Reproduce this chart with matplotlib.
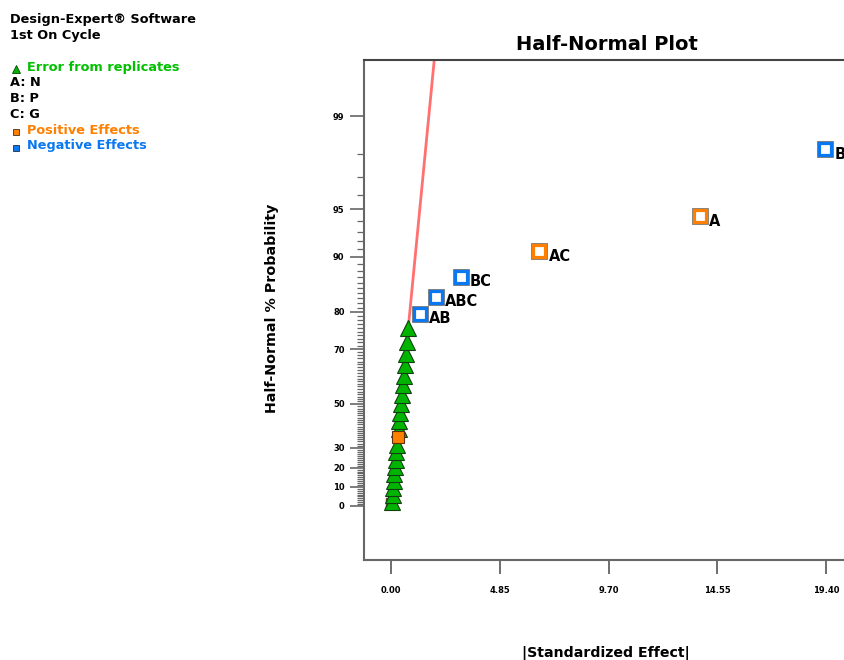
import math
import numpy as np
import matplotlib
matplotlib.use('Agg')
import matplotlib.pyplot as plt
from matplotlib.lines import Line2D

# error terms from replicates: |effect| and half-normal % probability
err_x = [0.03, 0.07, 0.10, 0.12, 0.15, 0.18, 0.21, 0.24, 0.27, 0.34,
         0.37, 0.40, 0.43, 0.48, 0.52, 0.57, 0.61, 0.66, 0.70, 0.76]
err_p = [1.85, 5.56, 9.26, 12.96, 16.67, 20.37, 24.07, 27.78, 31.48, 38.89,
         42.59, 46.30, 50.00, 53.70, 57.41, 61.11, 64.81, 68.52, 72.22, 75.93]

# selected effects (open squares)
eff_names = ['AB', 'ABC', 'BC', 'AC', 'A', 'B']
eff_x = [1.29, 2.01, 3.11, 6.62, 13.79, 19.37]
eff_p = [79.63, 83.33, 87.04, 90.74, 94.44, 98.15]
eff_sign = ['neg', 'neg', 'neg', 'pos', 'pos', 'neg']

# unselected effect C (filled square) and the hidden one at the bottom
c_x, c_p = 0.30, 35.19
low_x, low_p = 0.01, 1.5

yticks_major = [0, 10, 20, 30, 50, 70, 80, 90, 95, 99]
xticks = [0.00, 4.85, 9.70, 14.55, 19.40]

orange = '#ff8000'
blue = '#0a78f0'
green = '#00b400'

_erf = np.vectorize(math.erf)

def phi(z):
    return 0.5 * (1 + _erf(np.asarray(z, dtype=float) / math.sqrt(2)))

def ppf(q):
    q = np.asarray(q, dtype=float)
    lo = np.full(q.shape, -9.0)
    hi = np.full(q.shape, 9.0)
    for _ in range(60):
        mid = (lo + hi) / 2
        below = phi(mid) < q
        lo = np.where(below, mid, lo)
        hi = np.where(below, hi, mid)
    return (lo + hi) / 2

def fwd(p):
    p = np.clip(np.asarray(p, dtype=float), -99.99999, 99.99999)
    return ppf(0.5 + p / 200.0)

def inv(z):
    return 200.0 * (phi(z) - 0.5)

fig = plt.figure(figsize=(8.44, 6.60), dpi=100)
ax = fig.add_axes([364/844, 100/660, 486/844, 500/660])
ax.set_yscale('function', functions=(fwd, inv))

# line through the error terms (through origin)
ez = fwd(err_p)
k = np.sum(np.array(err_x) * ez) / np.sum(ez**2)
top_z = 2.946
zz = np.array([0.0, top_z])
ax.plot(k * zz, inv(zz), color='#ff7070', lw=2, zorder=1)

ax.plot([low_x], [low_p], 's', ms=7, mfc='#a05a5a', mec='#704040', zorder=2)
ax.plot(err_x, err_p, '^', ms=11, mfc=green, mec='#104010', mew=0.8, zorder=3)
ax.plot([c_x], [c_p], 's', ms=9, mfc=orange, mec='#603010', mew=0.8, zorder=4)

for name, x, p, s in zip(eff_names, eff_x, eff_p, eff_sign):
    col = orange if s == 'pos' else blue
    ax.plot([x], [p], 's', ms=8, mfc='none', mec='#707070', mew=3.4, zorder=5)
    ax.plot([x], [p], 's', ms=8, mfc='white', mec=col, mew=2.3, zorder=6)
    ax.annotate(name, (x, p), xytext=(6.5, -3.5), textcoords='offset points',
                ha='left', va='center', fontsize=10.5, fontweight='heavy', color='black')

ax.set_xlim(-1.204, 20.47)
ax.set_ylim(inv(-0.357), inv(top_z))

ax.set_xticks(xticks)
ax.set_xticklabels(['%.2f' % t for t in xticks])
ax.set_yticks(yticks_major)
ax.set_yticklabels([str(t) for t in yticks_major])
ax.set_yticks([t for t in range(0, 100) if t not in yticks_major], minor=True)
ax.tick_params(axis='x', length=10, width=1.2, color='#555555', pad=9,
               labelsize=6)
ax.tick_params(axis='y', which='major', length=10, width=1.2, color='#666666',
               pad=4, labelsize=6)
ax.tick_params(axis='y', which='minor', length=5, width=0.9, color='#666666')
for lab in ax.get_xticklabels() + ax.get_yticklabels():
    lab.set_fontweight('bold')

for side in ['left', 'bottom', 'top']:
    ax.spines[side].set_color('#666666')
    ax.spines[side].set_linewidth(1.5)
ax.spines['top'].set_color('#444444')
ax.spines['right'].set_visible(False)

fig.text(607/844, 1 - 45/660, 'Half-Normal Plot', ha='center', va='center',
         fontsize=14, fontweight='heavy')
fig.text(272/844, 1 - 308/660, 'Half-Normal % Probability', ha='center', va='center',
         rotation=90, fontsize=10.3, fontweight='bold')
fig.text(606/844, 1 - 653/660, '|Standardized Effect|', ha='center', va='center',
         fontsize=10.2, fontweight='bold')

# header and legend block at top left
fs = 9.3
fig.text(10/844, 1 - 19/660, 'Design-Expert® Software', va='center', fontsize=fs, fontweight='bold')
fig.text(10/844, 1 - 35/660, '1st On Cycle', va='center', fontsize=fs, fontweight='bold')
fig.text(27/844, 1 - 67/660, 'Error from replicates', va='center', fontsize=fs,
         fontweight='bold', color='#00c000')
fig.text(10/844, 1 - 83/660, 'A: N', va='center', fontsize=fs, fontweight='bold')
fig.text(10/844, 1 - 98/660, 'B: P', va='center', fontsize=fs, fontweight='bold')
fig.text(10/844, 1 - 114/660, 'C: G', va='center', fontsize=fs, fontweight='bold')
fig.text(27/844, 1 - 130/660, 'Positive Effects', va='center', fontsize=fs,
         fontweight='bold', color=orange)
fig.text(27/844, 1 - 146/660, 'Negative Effects', va='center', fontsize=fs,
         fontweight='bold', color=blue)
fig.add_artist(Line2D([16/844], [1 - 69/660], marker='^', ms=6, mfc=green, mec='#104010',
                      mew=0.6, transform=fig.transFigure))
fig.add_artist(Line2D([16/844], [1 - 132/660], marker='s', ms=4.5, mfc=orange, mec='#403020',
                      mew=0.6, transform=fig.transFigure))
fig.add_artist(Line2D([16/844], [1 - 148/660], marker='s', ms=4.5, mfc=blue, mec='#203040',
                      mew=0.6, transform=fig.transFigure))

fig.savefig('out.png', dpi=100)
